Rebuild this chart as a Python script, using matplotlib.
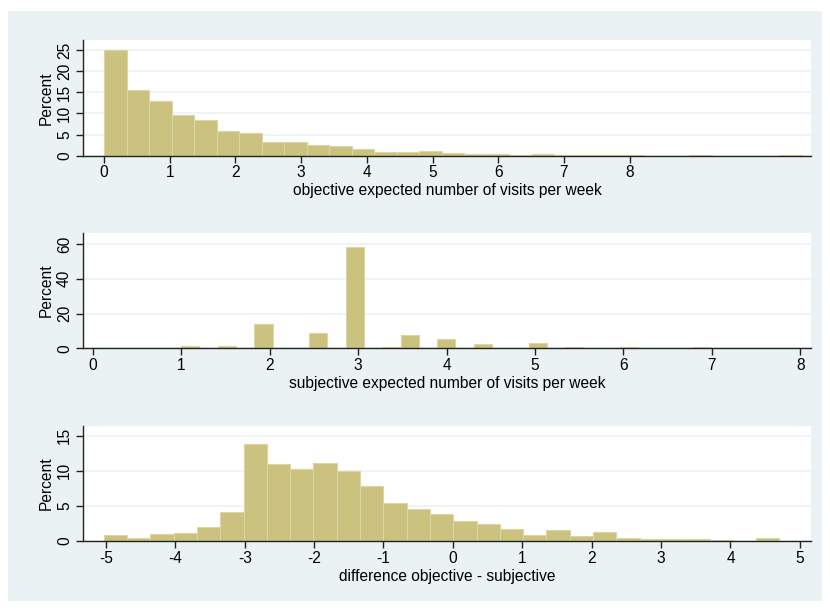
import numpy as np
import matplotlib.pyplot as plt
from matplotlib.patches import Rectangle

plt.rcParams['font.family'] = ['Liberation Sans', 'DejaVu Sans']
plt.rcParams['font.size'] = 11.2
plt.rcParams['axes.unicode_minus'] = False

# histogram data (percent per bin)
obj_start = 0.0
obj_width = 0.3426
obj_pct = [25.0, 15.5, 13.0, 9.6, 8.4, 5.85, 5.45, 3.25, 3.3, 2.45, 2.3, 1.5,
           0.8, 0.9, 1.05, 0.65, 0.3, 0.3, 0.15, 0.3, 0.15, 0.1, 0.15, 0.15,
           0.0, 0.0, 0.2, 0.0, 0.0, 0.0, 0.2]

subj_start = 0.173
subj_width = 0.2067
subj_pct = [0, 0, 0, 0, 1.3, 0, 1.15, 0, 13.8, 0, 0, 9.0, 0, 58.5, 0, 0.55,
            7.5, 0, 5.2, 0, 2.4, 0, 0, 3.1, 0, 0.7, 0, 0, 0.6, 0, 0, 0, 0.6]

diff_start = -5.03
diff_width = 0.3357
diff_pct = [0.9, 0.43, 1.0, 1.1, 2.0, 4.2, 13.8, 11.0, 10.25, 11.05, 9.9, 7.85,
            5.45, 4.6, 3.9, 2.85, 2.45, 1.7, 0.85, 1.5, 0.7, 1.3, 0.45, 0.25,
            0.25, 0.35, 0.12, 0.0, 0.43]

panels = [
    (obj_start, obj_width, obj_pct, 'objective expected number of visits per week',
     list(range(0, 9)), [0, 5, 10, 15, 20, 25], (-0.32, 10.76), 27.4, (40, 155.7)),
    (subj_start, subj_width, subj_pct, 'subjective expected number of visits per week',
     list(range(0, 9)), [0, 20, 40, 60], (-0.11, 8.12), 66.3, (233, 348.3)),
    (diff_start, diff_width, diff_pct, 'difference objective - subjective',
     list(range(-5, 6)), [0, 5, 10, 15], (-5.33, 5.16), 16.42, (425.7, 541)),
]

W, H = 830, 611
bg = '#EAF2F3'
fig = plt.figure(figsize=(W / 100, H / 100), dpi=100, facecolor='white')
fig.patches.append(Rectangle((8 / W, 1 - 601 / H), 814 / W, 590 / H,
                             transform=fig.transFigure, facecolor=bg,
                             edgecolor='none', zorder=-10))

for start, width, pct, xlab, xt, yt, xlim, ytop, (top, bot) in panels:
    ax = fig.add_axes([83 / W, 1 - bot / H, 728 / W, (bot - top) / H])
    ax.set_facecolor('white')
    edges = start + width * np.arange(len(pct))
    ax.bar(edges, pct, width=width, align='edge', color='#CAC27E',
           edgecolor='#DCD6A6', linewidth=0.8, zorder=2)
    ax.set_xlim(*xlim)
    ax.set_ylim(0, ytop)
    ax.set_xticks(xt)
    ax.set_yticks(yt)
    ax.yaxis.grid(True, color=bg, linewidth=1.2)
    ax.set_axisbelow(True)
    for s in ['top', 'right']:
        ax.spines[s].set_visible(False)
    for s in ['left', 'bottom']:
        ax.spines[s].set_color('#222222')
        ax.spines[s].set_linewidth(1.0)
        ax.spines[s].set_zorder(3)
    ax.tick_params(axis='x', length=5, width=1, color='#222222', pad=2)
    ax.tick_params(axis='y', length=5, width=1, color='#222222', pad=3,
                   labelrotation=90)
    for lbl in ax.get_yticklabels():
        lbl.set_va('center')
    ax.set_xlabel(xlab, labelpad=2)
    ax.set_ylabel('Percent', labelpad=2)

plt.savefig('out.png', dpi=100, facecolor='white')
